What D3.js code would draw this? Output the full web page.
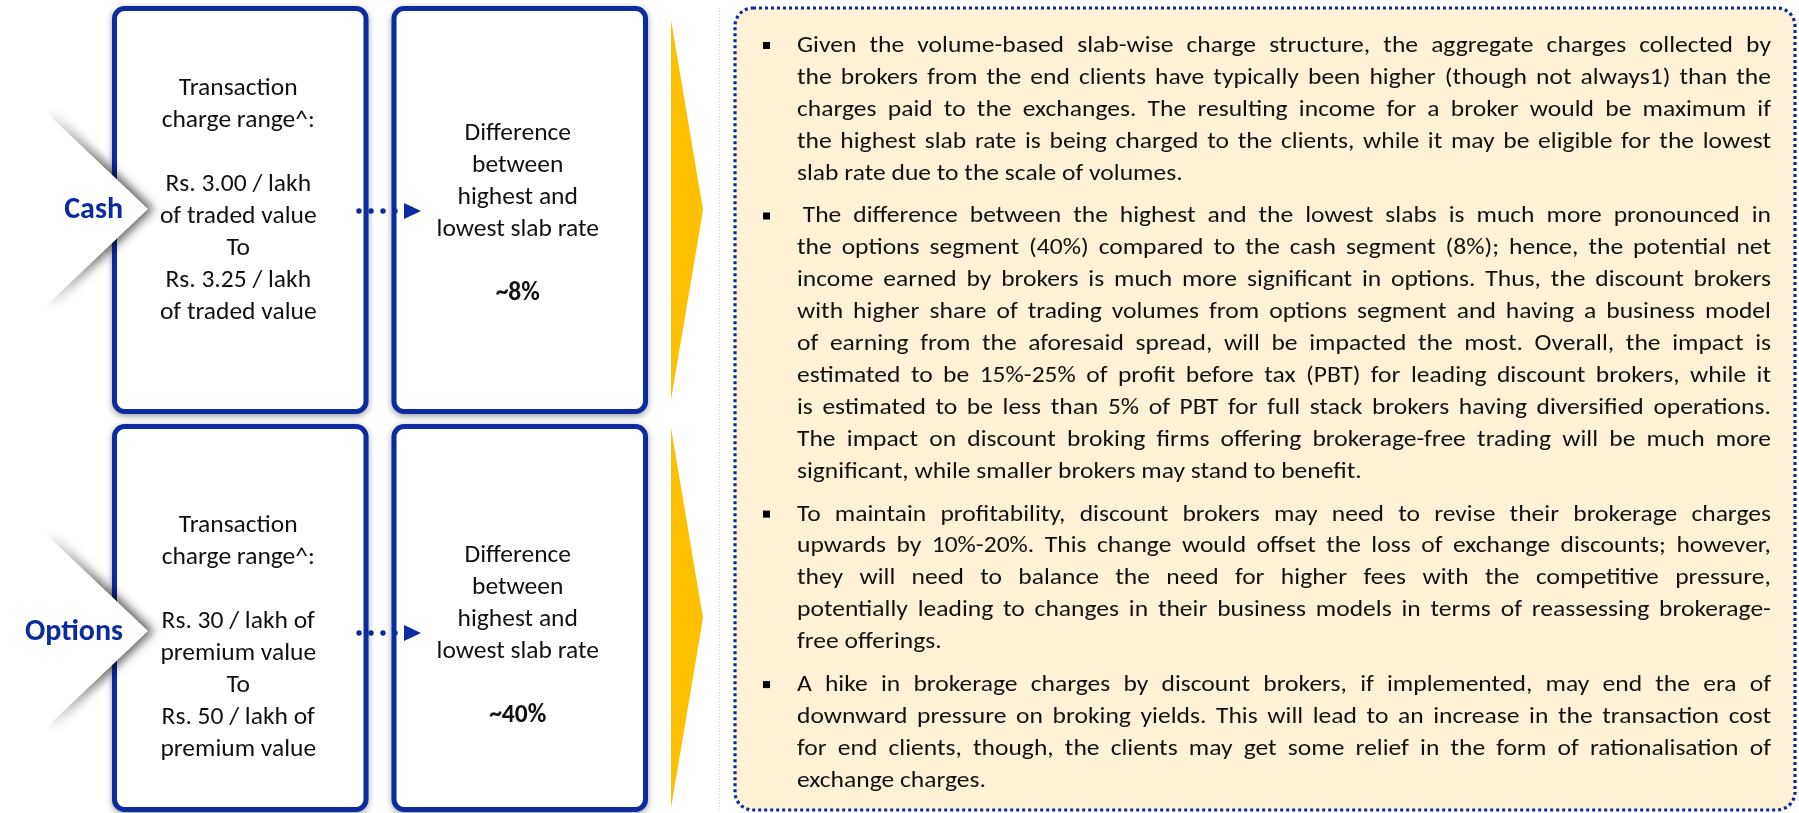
<!DOCTYPE html>
<html>
<head>
<meta charset="utf-8">
<script src="https://cdn.jsdelivr.net/npm/d3@7"></script>
<style>
  html, body { margin: 0; padding: 0; background: #fff; }
  svg { display: block; }
</style>
</head>
<body>
<script>
// ---- data ----
var segments = ["Cash", "Options"];

var chargeLines = [
  ["Transaction", "charge range^:", "", "Rs. 3.00 / lakh", "of traded value", "To", "Rs. 3.25 / lakh", "of traded value"],
  ["Transaction", "charge range^:", "", "Rs. 30 / lakh of", "premium value", "To", "Rs. 50 / lakh of", "premium value"]
];

var diffLines = ["Difference", "between", "highest and", "lowest slab rate"];
var diffValues = ["~8%", "~40%"];

var paragraphs = [
  ["Given the volume-based slab-wise charge structure, the aggregate charges collected by",
   "the brokers from the end clients have typically been higher (though not always1) than the",
   "charges paid to the exchanges. The resulting income for a broker would be maximum if",
   "the highest slab rate is being charged to the clients, while it may be eligible for the lowest",
   "slab rate due to the scale of volumes."],
  [" The difference between the highest and the lowest slabs is much more pronounced in",
   "the options segment (40%) compared to the cash segment (8%); hence, the potential net",
   "income earned by brokers is much more significant in options. Thus, the discount brokers",
   "with higher share of trading volumes from options segment and having a business model",
   "of earning from the aforesaid spread, will be impacted the most. Overall, the impact is",
   "estimated to be 15%-25% of profit before tax (PBT) for leading discount brokers, while it",
   "is estimated to be less than 5% of PBT for full stack brokers having diversified operations.",
   "The impact on discount broking firms offering brokerage-free trading will be much more",
   "significant, while smaller brokers may stand to benefit."],
  ["To maintain profitability, discount brokers may need to revise their brokerage charges",
   "upwards by 10%-20%. This change would offset the loss of exchange discounts; however,",
   "they will need to balance the need for higher fees with the competitive pressure,",
   "potentially leading to changes in their business models in terms of reassessing brokerage-",
   "free offerings."],
  ["A hike in brokerage charges by discount brokers, if implemented, may end the era of",
   "downward pressure on broking yields. This will lead to an increase in the transaction cost",
   "for end clients, though, the clients may get some relief in the form of rationalisation of",
   "exchange charges."]
];

// ---- look ----
var W = 1799, H = 813;
var blue = "#0a2a9f", yellow = "#ffc000", cream = "#fef1d5", ink = "#111";
var fontFamily = "Carlito, Calibri, Lato, sans-serif";
var fs = 23, boxFs = 25.5, lineStep = 32;

var svg = d3.select("body").append("svg")
    .attr("width", W)
    .attr("height", H)
    .style("font-family", fontFamily);

var defs = svg.append("defs");
defs.append("filter").attr("id", "boxShadow")
    .attr("x", "-10%").attr("y", "-10%").attr("width", "120%").attr("height", "120%")
  .append("feDropShadow")
    .attr("dx", 0).attr("dy", 2).attr("stdDeviation", 3)
    .attr("flood-color", "#000").attr("flood-opacity", 0.4);
defs.append("filter").attr("id", "blur")
    .attr("x", "-50%").attr("y", "-50%").attr("width", "200%").attr("height", "200%")
  .append("feGaussianBlur")
    .attr("stdDeviation", 5);

// fade the chevron shadow out towards the left
var fade = defs.append("linearGradient").attr("id", "fadeGrad")
    .attr("gradientUnits", "userSpaceOnUse")
    .attr("x1", 45).attr("x2", 105).attr("y1", 0).attr("y2", 0);
fade.append("stop").attr("offset", 0).attr("stop-color", "#fff").attr("stop-opacity", 0);
fade.append("stop").attr("offset", 1).attr("stop-color", "#fff").attr("stop-opacity", 1);
defs.append("mask").attr("id", "fadeMask")
    .attr("maskUnits", "userSpaceOnUse")
    .attr("x", 0).attr("y", 0).attr("width", W).attr("height", H)
  .append("rect")
    .attr("width", W).attr("height", H)
    .attr("fill", "url(#fadeGrad)");

// Set scales
var yBoxTop = d3.scalePoint().domain(segments).range([6, 424]),
    yBoxBottom = d3.scalePoint().domain(segments).range([414, 812]),
    yArrow = d3.scalePoint().domain(segments).range([210, 632]),
    yLeftText = d3.scalePoint().domain(segments).range([95, 532]),
    yRightText = d3.scalePoint().domain(segments).range([140, 562]);
var xCol = d3.scaleBand().domain(["charge", "diff"]).range([112, 648]).paddingInner(0.0823);
var bw = xCol.bandwidth();

// boxes
var boxes = [];
segments.forEach(function(s) {
  xCol.domain().forEach(function(c) { boxes.push({seg: s, col: c}); });
});
svg.append("g").selectAll("rect")
    .data(boxes)
  .enter().append("rect")
    .attr("x", function(d) { return xCol(d.col) + 2.5; })
    .attr("y", function(d) { return yBoxTop(d.seg) + 2.5; })
    .attr("width", bw - 5)
    .attr("height", function(d) { return yBoxBottom(d.seg) - yBoxTop(d.seg) - 5; })
    .attr("rx", 10)
    .attr("fill", "#fff")
    .attr("stroke", blue)
    .attr("stroke-width", 5)
    .attr("filter", "url(#boxShadow)");

// white chevrons with the segment name
var tipX = 148;
function chevPoints(s) {
  var m = yArrow(s) - 1;
  return [[tipX - 175, m - 95], [tipX - 100, m - 95], [tipX, m],
          [tipX - 100, m + 95], [tipX - 175, m + 95]].join(" ");
}
svg.append("g")
    .attr("mask", "url(#fadeMask)")
  .selectAll("polygon")
    .data(segments)
  .enter().append("polygon")
    .attr("points", chevPoints)
    .attr("transform", "translate(6,0)")
    .attr("fill", "#000")
    .attr("fill-opacity", 0.6)
    .attr("filter", "url(#blur)");
var chev = svg.append("g").selectAll("g")
    .data(segments)
  .enter().append("g");
chev.append("polygon")
    .attr("points", chevPoints)
    .attr("fill", "#fff");
chev.append("text")
    .attr("x", 123)
    .attr("y", function(s) { return yArrow(s) + 8; })
    .attr("text-anchor", "end")
    .attr("font-size", 30)
    .attr("font-weight", "bold")
    .attr("fill", blue)
    .text(function(s) { return s; });

// dotted connectors
var dotX = [359, 371, 383, 395];
var conn = svg.append("g").selectAll("g")
    .data(segments)
  .enter().append("g");
conn.selectAll("circle")
    .data(function(s) { return dotX.map(function(x) { return {x: x, y: yArrow(s) + 1}; }); })
  .enter().append("circle")
    .attr("cx", function(d) { return d.x; })
    .attr("cy", function(d) { return d.y; })
    .attr("r", 2.7)
    .attr("fill", blue);
conn.append("polygon")
    .attr("points", function(s) {
      var m = yArrow(s) + 1;
      return [[404, m - 8], [404, m + 8], [421, m]].join(" ");
    })
    .attr("fill", blue);

// box texts
var leftCx = xCol("charge") + bw / 2 - 2,
    rightCx = xCol("diff") + bw / 2 - 2;
segments.forEach(function(s, i) {
  svg.append("g").selectAll("text")
      .data(chargeLines[i])
    .enter().append("text")
      .attr("x", leftCx)
      .attr("y", function(d, j) { return yLeftText(s) + j * lineStep; })
      .attr("text-anchor", "middle")
      .attr("font-size", boxFs)
      .attr("fill", ink)
      .text(function(d) { return d; });
  svg.append("g").selectAll("text")
      .data(diffLines)
    .enter().append("text")
      .attr("x", rightCx)
      .attr("y", function(d, j) { return yRightText(s) + j * lineStep; })
      .attr("text-anchor", "middle")
      .attr("font-size", boxFs)
      .attr("fill", ink)
      .text(function(d) { return d; });
  svg.append("text")
      .attr("x", rightCx)
      .attr("y", yRightText(s) + 5 * lineStep)
      .attr("text-anchor", "middle")
      .attr("font-size", boxFs)
      .attr("font-weight", "bold")
      .attr("fill", ink)
      .text(diffValues[i]);
});

// yellow arrows
svg.append("g").selectAll("polygon")
    .data(segments)
  .enter().append("polygon")
    .attr("points", function(s) {
      var c = (yBoxTop(s) + yBoxBottom(s)) / 2;
      return [[671, c - 190], [703, c], [671, c + 190]].join(" ");
    })
    .attr("fill", yellow);

// faint separator
svg.append("line")
    .attr("x1", 719.5).attr("x2", 719.5)
    .attr("y1", 8).attr("y2", 810)
    .attr("stroke", "#cfcfcf")
    .attr("stroke-dasharray", "1 2");

// text panel
svg.append("rect")
    .attr("x", 735).attr("y", 8)
    .attr("width", 1060).attr("height", 802)
    .attr("rx", 18)
    .attr("fill", cream)
    .attr("stroke", blue)
    .attr("stroke-width", 3.2)
    .attr("stroke-dasharray", "3 3");

// justified paragraphs
var textX = 797, textW = 974, lineH = 31.9, paraGap = 11, firstBase = 52;
var meas = svg.append("text").attr("font-size", fs).attr("x", -2000).attr("y", -2000);
function tw(s) { meas.text(s); return meas.node().getComputedTextLength(); }
var spaceW = tw("a a") - tw("aa");

var rows = [], base = firstBase;
paragraphs.forEach(function(p, pi) {
  p.forEach(function(line, li) {
    var words = line.trim().split(/\s+/);
    var widths = words.map(tw);
    var indent = line.match(/^ */)[0].length * spaceW;
    var sum = d3.sum(widths);
    rows.push({first: li === 0, last: li === p.length - 1, base: base,
               words: words, widths: widths, sum: sum, indent: indent,
               natural: indent + sum + (words.length - 1) * spaceW});
    base += lineH;
  });
  base += paraGap;
});
meas.remove();

var k = d3.max(rows.filter(function(r) { return !r.last; }), function(r) { return r.natural; }) / textW;
k = Math.max(0.9, Math.min(1.3, k));
var localW = textW * k;

rows.forEach(function(r) {
  var n = r.words.length;
  var gap = r.last ? spaceW : (localW - r.indent - r.sum) / (n - 1);
  var x = r.indent;
  r.xs = r.widths.map(function(w) { var cur = x; x += w + gap; return cur; });
});

var pg = svg.append("g").attr("transform", "translate(" + textX + ",0) scale(" + (1 / k) + ",1)");
pg.selectAll("text")
    .data(rows)
  .enter().append("text")
    .attr("y", function(r) { return r.base; })
    .attr("font-size", fs)
    .attr("fill", ink)
  .selectAll("tspan")
    .data(function(r) { return r.words.map(function(w, i) { return {w: w, x: r.xs[i]}; }); })
  .enter().append("tspan")
    .attr("x", function(d) { return d.x; })
    .text(function(d) { return d.w; });

// bullets
svg.append("g").selectAll("rect")
    .data(rows.filter(function(r) { return r.first; }))
  .enter().append("rect")
    .attr("x", 763)
    .attr("y", function(r) { return r.base - 10; })
    .attr("width", 7).attr("height", 7)
    .attr("fill", "#000");
</script>
</body>
</html>
